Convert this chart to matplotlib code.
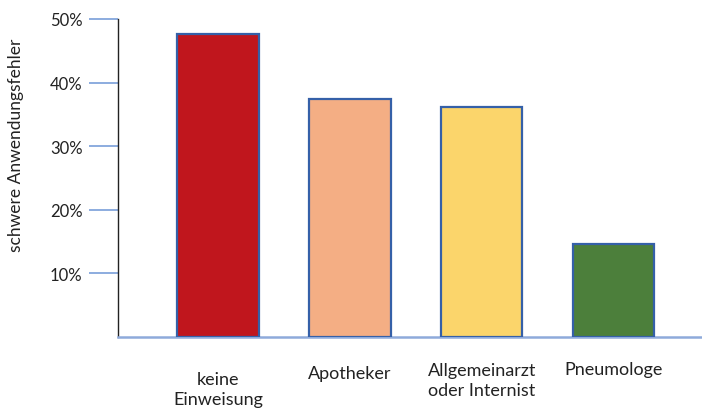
import matplotlib.pyplot as plt

categories = ['keine\nEinweisung', 'Apotheker', 'Allgemeinarzt\noder Internist', 'Pneumologe']
values = [47.6, 37.5, 36.1, 14.6]
colors = ['#C0161D', '#F4AE84', '#FBD56B', '#4C7F3B']
yticks = [10, 20, 30, 40, 50]
ylabels = ['10%', '20%', '30%', '40%', '50%']

plt.rcParams['font.family'] = ['Lato', 'DejaVu Sans']

fig = plt.figure(figsize=(7.02, 4.10), dpi=100)
ax = fig.add_axes([118 / 702, 1 - 338 / 410, 1 - 118 / 702, 318 / 410])

x = range(len(categories))
ax.bar(x, values, width=0.62, color=colors, edgecolor='#3560A8', linewidth=1.6, zorder=3)

ax.set_xlim(-0.759, 3.672)
ax.set_ylim(0, 50)

ax.set_yticks(yticks)
ax.set_yticklabels(ylabels, fontsize=12, color='#222222')
ax.tick_params(axis='y', length=21, width=1.1, color='#6E96D6', pad=4.5)
ax.set_xticks([])

for s in ['top', 'right']:
    ax.spines[s].set_visible(False)
ax.spines['left'].set_color('#222222')
ax.spines['left'].set_linewidth(1.0)
ax.spines['bottom'].set_color('#8EAADB')
ax.spines['bottom'].set_linewidth(1.8)

# category labels sit at slightly different heights in the original
offsets = [37.5, 26, 31, 23]
for i, (lab, off) in enumerate(zip(categories, offsets)):
    ax.annotate(lab, xy=(i, 0), xycoords=('data', 'axes fraction'),
                xytext=(0, -off), textcoords='offset points',
                ha='center', va='center', multialignment='center',
                fontsize=13, color='#222222', linespacing=1.25)

fig.text(16 / 702, 1 - 145 / 410, 'schwere Anwendungsfehler', rotation=90,
         ha='center', va='center', fontsize=12.5, color='#222222')

fig.savefig('out.png', dpi=100)
